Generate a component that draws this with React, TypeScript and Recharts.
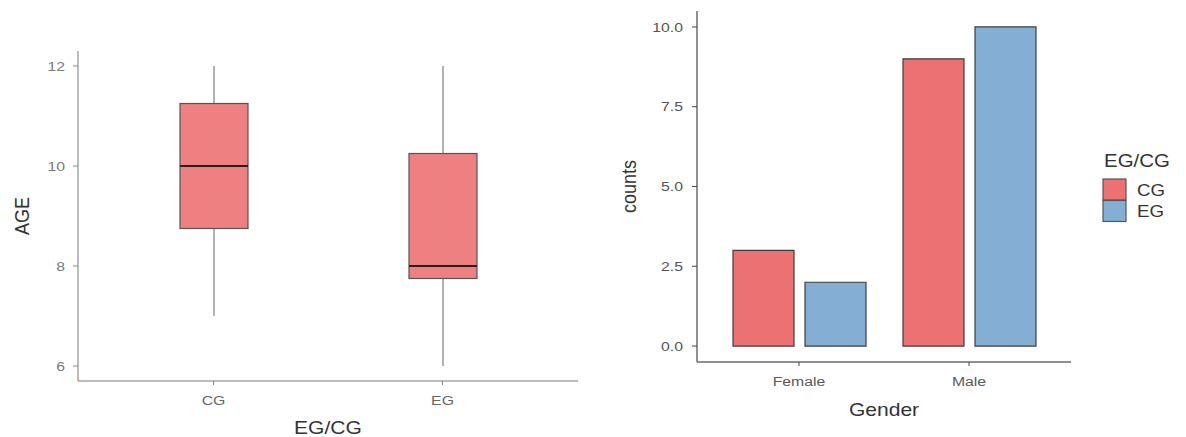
import React from "react";
import { BarChart, Bar, XAxis, YAxis, Label } from "recharts";

// Age box plot, one box per group
const groups = ["CG", "EG"];
const ageMin = [7, 6];
const ageQ1 = [8.75, 7.75];
const ageMedian = [10, 8];
const ageQ3 = [11.25, 10.25];
const ageMax = [12, 12];
const ageTicks = [6, 8, 10, 12];

// Counts per gender, split by group
const genders = ["Female", "Male"];
const cgCounts = [3, 9];
const egCounts = [2, 10];
const countTicks = [0, 2.5, 5, 7.5, 10];

const seriesNames = ["CG", "EG"];
const seriesColors = ["#ec7173", "#84aed4"];

const FONT = "'Liberation Sans', Arial, Helvetica, sans-serif";
const STRETCH = 1.17;

const boxData = groups.map((g, i) => ({
  group: g,
  range: [ageMin[i], ageMax[i]],
  min: ageMin[i],
  q1: ageQ1[i],
  median: ageMedian[i],
  q3: ageQ3[i],
  max: ageMax[i],
}));

const countData = genders.map((g, i) => ({
  gender: g,
  CG: cgCounts[i],
  EG: egCounts[i],
}));

// Horizontally widened text, anchored at (x, y)
function WideText({
  x,
  y,
  children,
  size,
  color,
  anchor = "middle",
  rotate = 0,
}: {
  x: number;
  y: number;
  children: React.ReactNode;
  size: number;
  color: string;
  anchor?: "start" | "middle" | "end";
  rotate?: number;
}) {
  return (
    <g transform={`translate(${x},${y}) scale(${STRETCH},1) rotate(${rotate})`}>
      <text
        x={0}
        y={0}
        textAnchor={anchor}
        dominantBaseline="central"
        fontFamily={FONT}
        fontSize={size}
        fill={color}
      >
        {children}
      </text>
    </g>
  );
}

function makeYTick(color: string, fmt: (v: number) => string) {
  return (props: any) => (
    <WideText x={props.x} y={props.y} size={13.5} color={color} anchor="end">
      {fmt(props.payload.value)}
    </WideText>
  );
}

function makeXTick(color: string) {
  return (props: any) => (
    <WideText x={props.x} y={props.y + 7} size={13.5} color={color}>
      {props.payload.value}
    </WideText>
  );
}

function xTitle(text: string, offset: number) {
  return (props: any) => {
    const vb = props.viewBox;
    return (
      <WideText x={vb.x + vb.width / 2} y={vb.y + offset} size={18} color="#333">
        {text}
      </WideText>
    );
  };
}

function yTitle(text: string, cx: number) {
  return (props: any) => {
    const vb = props.viewBox;
    return (
      <WideText x={cx} y={vb.y + vb.height / 2} size={18} color="#333" rotate={-90}>
        {text}
      </WideText>
    );
  };
}

// Whisker, box and median drawn from the min..max range bar
function BoxShape(props: any) {
  const { x, y, width, height, payload } = props;
  const top = Math.min(y, y + height);
  const h = Math.abs(height);
  const span = payload.max - payload.min;
  const py = (v: number) => top + ((payload.max - v) / span) * h;
  const cx = x + width / 2;
  return (
    <g>
      <line x1={cx} x2={cx} y1={py(payload.max)} y2={py(payload.min)} stroke="#8a8a8a" strokeWidth={1.3} />
      <rect
        x={x}
        y={py(payload.q3)}
        width={width}
        height={py(payload.q1) - py(payload.q3)}
        fill="#ee8082"
        stroke="#555"
        strokeWidth={1.2}
      />
      <line
        x1={x}
        x2={x + width}
        y1={py(payload.median)}
        y2={py(payload.median)}
        stroke="#222"
        strokeWidth={2}
      />
    </g>
  );
}

function AgeBoxPlot() {
  return (
    <BarChart
      width={600}
      height={437}
      data={boxData}
      margin={{ top: 51, right: 22, bottom: 0, left: 0 }}
    >
      <XAxis
        dataKey="group"
        height={56}
        padding={{ left: 21, right: 21 }}
        axisLine={{ stroke: "#a6a6a6", strokeWidth: 1.5 }}
        tickLine={{ stroke: "#8a8a8a" }}
        tickSize={4}
        tickMargin={8}
        tick={makeXTick("#666")}
      >
        <Label content={xTitle("EG/CG", 47)} />
      </XAxis>
      <YAxis
        type="number"
        domain={[5.7, 12.3]}
        ticks={ageTicks}
        allowDataOverflow
        width={78}
        axisLine={{ stroke: "#a6a6a6", strokeWidth: 1.5 }}
        tickLine={{ stroke: "#8a8a8a" }}
        tickSize={5}
        tickMargin={8}
        tick={makeYTick("#7a7a7a", (v) => String(v))}
      >
        <Label content={yTitle("AGE", 21.5)} />
      </YAxis>
      <Bar dataKey="range" barSize={68} shape={<BoxShape />} isAnimationActive={false} />
    </BarChart>
  );
}

function GenderBars() {
  return (
    <BarChart
      width={586}
      height={437}
      data={countData}
      margin={{ top: 11, right: 115, bottom: 0, left: 0 }}
      barGap={11}
    >
      <XAxis
        dataKey="gender"
        height={75}
        padding={{ left: 17, right: 17 }}
        axisLine={{ stroke: "#6a6a6a", strokeWidth: 1.3 }}
        tickLine={{ stroke: "#444" }}
        tickSize={4}
        tickMargin={8}
        tick={makeXTick("#5a5a5a")}
      >
        <Label content={xTitle("Gender", 48)} />
      </XAxis>
      <YAxis
        type="number"
        domain={[-0.5, 10.5]}
        ticks={countTicks}
        allowDataOverflow
        width={97}
        axisLine={{ stroke: "#555", strokeWidth: 1.3 }}
        tickLine={{ stroke: "#444" }}
        tickSize={5}
        tickMargin={9}
        tick={makeYTick("#555", (v) => v.toFixed(1))}
      >
        <Label content={yTitle("counts", 28)} />
      </YAxis>
      {seriesNames.map((s, i) => (
        <Bar
          key={s}
          dataKey={s}
          barSize={61}
          fill={seriesColors[i]}
          stroke="#3c3c3c"
          strokeWidth={1.2}
          isAnimationActive={false}
        />
      ))}
    </BarChart>
  );
}

function GroupLegend() {
  return (
    <svg width={100} height={90} style={{ position: "absolute", left: 1090, top: 145 }}>
      <WideText x={14} y={16} size={17.5} color="#333" anchor="start">
        EG/CG
      </WideText>
      {seriesNames.map((s, i) => (
        <g key={s}>
          <rect
            x={13}
            y={34 + i * 21.5}
            width={23}
            height={21}
            fill={seriesColors[i]}
            stroke="#555"
            strokeWidth={1.2}
          />
          <WideText x={47} y={45 + i * 21} size={16} color="#333" anchor="start">
            {s}
          </WideText>
        </g>
      ))}
    </svg>
  );
}

export default function App() {
  return (
    <div
      style={{
        position: "absolute",
        left: 0,
        top: 0,
        width: 1186,
        height: 437,
        background: "#fff",
      }}
    >
      <div style={{ position: "absolute", left: 0, top: 0 }}>
        <AgeBoxPlot />
      </div>
      <div style={{ position: "absolute", left: 600, top: 0 }}>
        <GenderBars />
      </div>
      <GroupLegend />
    </div>
  );
}
